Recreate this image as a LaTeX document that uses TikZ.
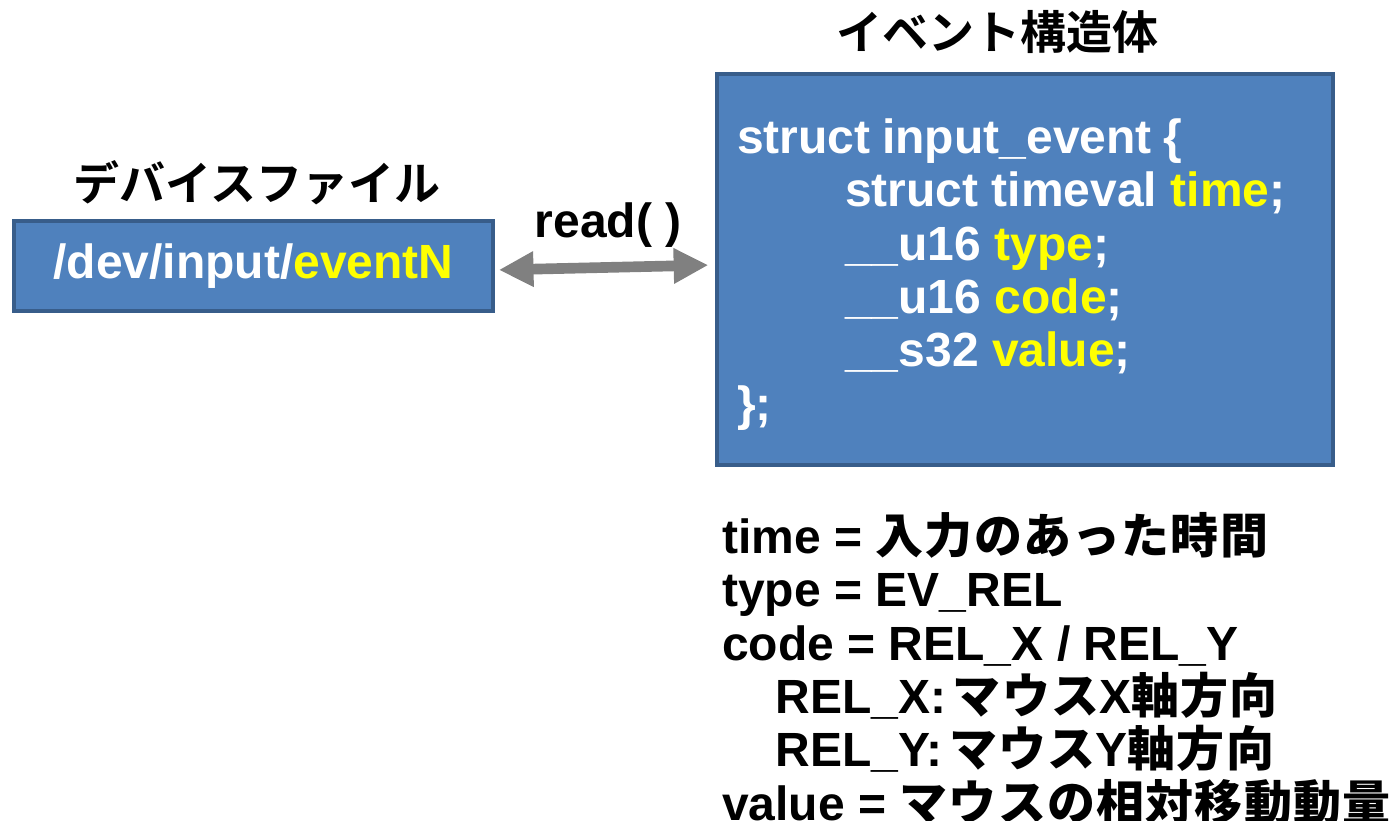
\documentclass[tikz,border=0pt]{standalone}
\usepackage{fontspec}
\setmainfont{Liberation Sans}
\newfontfamily\jp{Noto Sans CJK JP Bold}
\newfontfamily\jpm{Noto Sans CJK JP Medium}[LetterSpace=2.5]
\usepackage{tikz}
\usetikzlibrary{arrows.meta, positioning, calc}

\definecolor{boxfill}{HTML}{4F81BD}
\definecolor{boxline}{HTML}{385D8A}
\definecolor{hilite}{HTML}{FFFF00}
\newcommand{\hl}[1]{\textcolor{hilite}{#1}}

\begin{document}
\begin{tikzpicture}[x=0.75pt, y=-0.75pt,
        font=\fontsize{36}{40}\selectfont\bfseries,
        bluebox/.style={draw=boxline, line width=3pt, fill=boxfill, text=white},
        jplabel/.style={font=\fontsize{34.5}{40}\selectfont\jp},
        rwarrow/.style={draw=gray, line width=8pt,
            {Triangle[width=25pt, length=26pt]}-{Triangle[width=25pt, length=26pt]}}]
    \useasboundingbox (0,0) rectangle (1397,821);
    % device file
    \node[bluebox, minimum width=359pt, minimum height=67.5pt, inner sep=0pt] (devfile) at (253.5,266) {/dev/input/\hl{eventN}};
    \node[jplabel] (devlabel) at (257,183) {デバイスファイル};
    % event struct
    \node[bluebox, minimum width=462pt, minimum height=293pt] (evstruct) at (1025,269.5) {};
    \node[anchor=west, align=left, text=white, inner sep=0pt] (structcode) at (737,274.5) {\spaceskip=8.8pt struct input\_event \{\\
        \hspace*{81pt}struct timeval \hl{time};\\
        \hspace*{81pt}\_\_u16 \hl{type};\\
        \hspace*{81pt}\_\_u16 \hl{code};\\
        \hspace*{81pt}\_\_s32 \hl{value};\\
        \};};
    \node[jplabel] (evlabel) at (997,32) {イベント構造体};
    % read
    \node (readlabel) at (608,225) {read( )};
    \draw[rwarrow, shorten <=3pt, shorten >=5pt] ([yshift=-3pt]devfile.east) -- ([yshift=3.4pt]evstruct.west);
    % field notes
    \node[anchor=north west, align=left, inner sep=0pt] (fields) at (722,512) {time = {\jpm 入力のあった時間}\\
        type = EV\_REL\\
        code = REL\_X / REL\_Y\\
        \hspace*{40pt}REL\_X:\hspace{5pt}{\jpm マウス}X{\jpm 軸方向}\\
        \hspace*{40pt}REL\_Y:\hspace{5pt}{\jpm マウス}Y{\jpm 軸方向}\\
        value = {\jpm マウスの相対移動動量}};
\end{tikzpicture}
\end{document}
